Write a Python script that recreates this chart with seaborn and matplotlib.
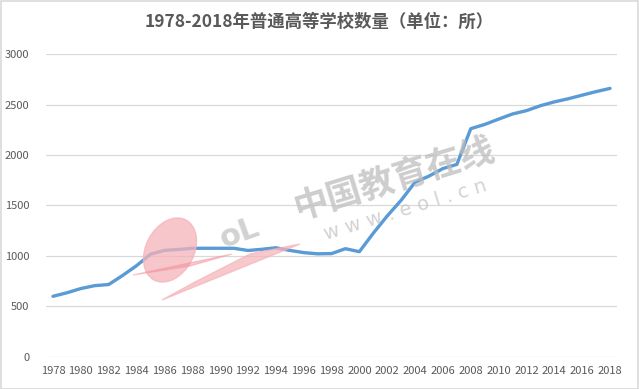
import matplotlib.pyplot as plt
import numpy as np
import pandas as pd
import seaborn as sns
from matplotlib.patches import Ellipse, Polygon, Rectangle

# number of regular higher-education institutions, 1978-2018
years = list(range(1978, 2019))
schools = [598, 633, 675, 704, 715, 805, 902, 1016, 1054, 1063,
           1075, 1075, 1075, 1075, 1053, 1065, 1080, 1054, 1032, 1020,
           1022, 1071, 1041, 1225, 1396, 1552, 1731, 1792, 1867, 1908,
           2263, 2305, 2358, 2409, 2442, 2491, 2529, 2560, 2596, 2631,
           2663]
y_ticks = [0, 500, 1000, 1500, 2000, 2500, 3000]
x_ticks = list(range(1978, 2019, 2))
title = "1978-2018年普通高等学校数量（单位：所）"

df = pd.DataFrame({"year": years, "count": schools})

sns.set_theme(style="white")
plt.rcParams["font.family"] = ["Noto Sans CJK SC", "DejaVu Sans"]

text_grey = "#595959"
grid_grey = "#d9d9d9"
W, H = 639, 389


def fx(px):
    return px / W


def fy(py):
    return 1 - py / H


def inch(px, py):
    # pixel position (from top-left) -> inches from bottom-left
    return (px / 100, (H - py) / 100)


fig = plt.figure(figsize=(6.39, 3.89), dpi=100)
ax = fig.add_axes([0.072, 0.0835, 0.8936, 0.7765])

# watermark (decoration)
pink = "#f5b3b9"
fig.patches.append(Ellipse(inch(170, 250), 0.48, 0.68, angle=-28,
                           transform=fig.dpi_scale_trans, color=pink,
                           alpha=0.75, zorder=0))
fig.patches.append(Polygon([inch(162, 300), inch(300, 244),
                            inch(250, 254), inch(195, 282)],
                           closed=True, transform=fig.dpi_scale_trans,
                           color=pink, alpha=0.7, zorder=0))
fig.patches.append(Polygon([inch(133, 275), inch(232, 254),
                            inch(190, 266)],
                           closed=True, transform=fig.dpi_scale_trans,
                           color="#f08f99", alpha=0.45, zorder=0))
fig.text(fx(395), fy(178), "中国教育在线", fontsize=25, color="#bdbdbd",
         alpha=0.75, rotation=17, ha="center", va="center",
         fontweight="bold")
fig.text(fx(405), fy(210), "w w w . e o l . c n", fontsize=14,
         color="#c4c4c4", alpha=0.75, rotation=17, ha="center",
         va="center", family=["DejaVu Sans"])
fig.text(fx(240), fy(233), "oL", fontsize=22, color="#c3c3c3", alpha=0.75,
         rotation=20, ha="center", va="center", fontweight="bold",
         family=["DejaVu Sans"])

sns.lineplot(data=df, x="year", y="count", ax=ax, color="#5B9BD5",
             linewidth=2.4, zorder=3)

ax.set_xlim(1977.5, 2018.5)
ax.set_ylim(0, 3000)
ax.set_yticks(y_ticks)
ax.set_xticks(x_ticks)
ax.set_xticklabels([str(x) for x in x_ticks])
ax.yaxis.grid(True, color=grid_grey, linewidth=0.9)
ax.xaxis.grid(False)
ax.set_facecolor("none")
for s in ax.spines.values():
    s.set_visible(False)
ax.tick_params(axis="both", length=0, colors=text_grey)
ax.tick_params(axis="y", pad=12)
ax.tick_params(axis="x", pad=7)
for lbl in ax.get_xticklabels() + ax.get_yticklabels():
    lbl.set_family(["Liberation Sans Narrow", "Noto Sans CJK SC"])
    lbl.set_fontsize(8)
ax.set_xlabel("")
ax.set_ylabel("")

fig.text(0.5, 0.943, title, ha="center", va="center", fontsize=12.5,
         fontweight="bold", color=text_grey)

fig.patches.append(Rectangle((0.001, 0.001), 0.997, 0.997,
                             transform=fig.transFigure, fill=False,
                             edgecolor=grid_grey, linewidth=1.2))

fig.savefig("out.png", dpi=100)
